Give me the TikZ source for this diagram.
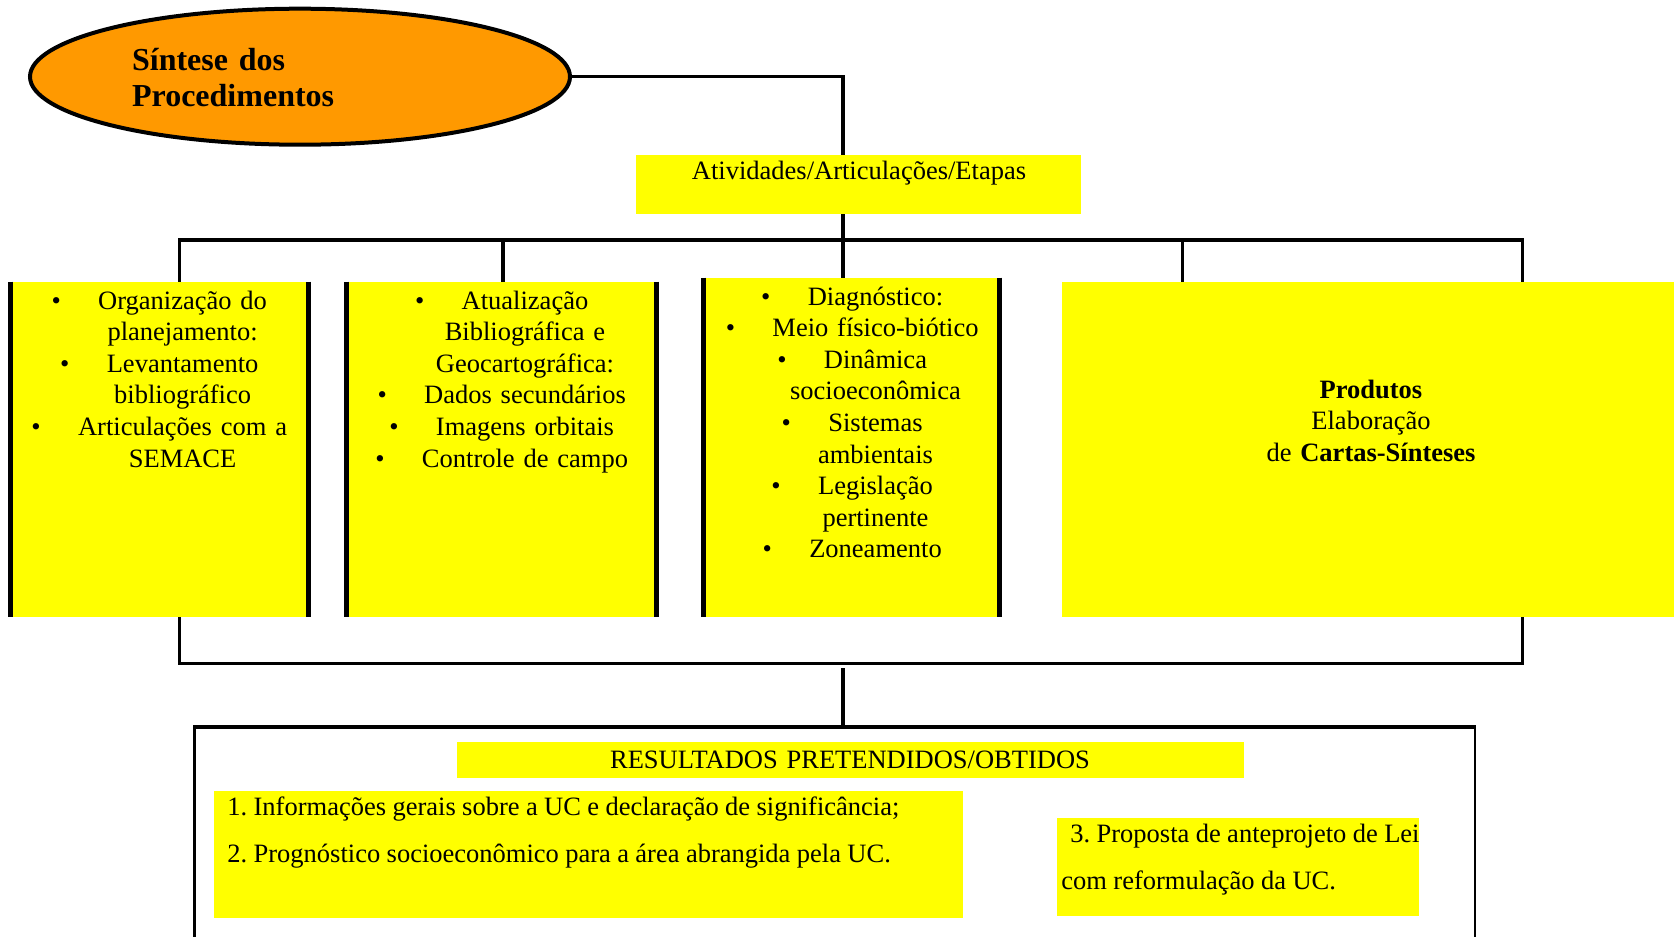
\documentclass[tikz,border=0pt]{standalone}
\usepackage{fontspec}
\setmainfont{Liberation Serif}
\usepackage{xcolor}
\usetikzlibrary{shapes.geometric}
\newcommand{\marca}{\leavevmode\llap{\textbullet\hspace{18.7pt}}}
\newcommand{\juntos}{\frenchspacing\spaceskip=3.2pt plus 1pt\relax}

\begin{document}
\begin{tikzpicture}[x=0.5pt,y=-0.5pt,
  conn/.style={line width=1.65pt},
  caixa/.style={fill=amarelo,inner sep=0pt},
  borda/.style={line width=2.5pt},
  texto/.style={inner sep=0pt,font=\fontsize{13.25}{15.8}\selectfont,align=center,text width=300pt,anchor=base},
  titulo/.style={inner sep=0pt,font=\fontsize{16}{18}\selectfont\bfseries,align=left,text width=120pt,anchor=base west},
  lista/.style={inner sep=0pt,font=\fontsize{13.25}{23.6}\selectfont,align=left,anchor=base west}]
\definecolor{amarelo}{HTML}{FFFF00}
\definecolor{laranja}{HTML}{FF9900}
\useasboundingbox (0,0) rectangle (1674,936);

\node [ellipse,draw,line width=2pt,fill=laranja,minimum width=270pt,minimum height=68pt,inner sep=0pt] (sintese) at (300,76.7) {};
\node [titulo] (sintesetxt) at (131.7,70.7) {Síntese dos\\Procedimentos};

\node [caixa,minimum width=222.5pt,minimum height=29.5pt] (atividades) at (858.5,184.5) {};
\node [texto] (atividadestxt) at (859,180) {Atividades/Articulações/Etapas};

\node [caixa,minimum width=151.5pt,minimum height=167.35pt] (orga) at (159.5,449.35) {};
\node [caixa,minimum width=157.5pt,minimum height=167.35pt] (atua) at (501.5,449.35) {};
\node [caixa,minimum width=150.5pt,minimum height=169.35pt] (diag) at (851.5,447.35) {};
\node [caixa,minimum width=306.2pt,minimum height=167.35pt] (prod) at (1367.8,449.35) {};
\foreach \bx in {orga,atua,diag}
  {\draw [borda] ([xshift=1.25pt]\bx.north west) -- ([xshift=1.25pt]\bx.south west);
   \draw [borda] ([xshift=-1.25pt]\bx.north east) -- ([xshift=-1.25pt]\bx.south east);}

\node [texto] (orgatxt) at (182.6,309) {\marca Organização do\\planejamento:\\\marca Levantamento\\bibliográfico\\\marca Articulações com a\\SEMACE};
\node [texto] (atuatxt) at (525,309) {\marca Atualização\\Bibliográfica e\\Geocartográfica:\\\marca Dados secundários\\\marca Imagens orbitais\\\marca Controle de campo};
\node [texto] (diagtxt) at (875.5,305) {\marca Diagnóstico:\\\marca Meio físico-biótico\\\marca Dinâmica\\socioeconômica\\\marca Sistemas\\ambientais\\\marca Legislação\\pertinente\\\marca Zoneamento};
\node [texto] (prodtxt) at (1371,398) {\textbf{Produtos}\\Elaboração\\de \textbf{Cartas-Sínteses}};

\coordinate (hub) at (843,240);
\coordinate (topL) at (179.5,240);
\coordinate (topR) at (1522.5,240);
\coordinate (botL) at (179.5,663.5);
\coordinate (botR) at (1522.5,663.5);
\coordinate (resTop) at (843,668);
\draw [conn] (sintese.east) -| (hub |- atividades.north);
\draw [conn] (hub |- atividades.south) -- (hub);
\draw [conn] (topL |- orga.north) -- (topL) -- (topR) -- (topR |- prod.north);
\foreach \bx/\bn in {503/atua,843/diag,1182.5/prod}
  {\draw [conn] (\bx,240) -- (\bx,240 |- \bn.north);}
\draw [conn] (botL |- orga.south) -- (botL) -- (botR) -- (botR |- prod.south);

\node [draw,line width=1.3pt,minimum width=640.25pt,minimum height=126pt,inner sep=0pt] (resultados) at (834.75,854) {};
\draw [line width=2pt] (resultados.north west) -- (resultados.north east);
\draw [conn] (resTop) -- (resultados.north -| resTop);

\node [caixa,minimum width=393.5pt,minimum height=18pt] (restitulo) at (850.5,760) {};
\node [texto] (restitulotxt) at (850,768) {RESULTADOS PRETENDIDOS/OBTIDOS};
\node [caixa,minimum width=374.75pt,minimum height=63.5pt] (res1) at (588.25,854.5) {};
\node [lista,text width=360pt] (res1txt) at (227,815) {\juntos 1. Informações gerais sobre a UC e declaração de significância;\\\juntos 2. Prognóstico socioeconômico para a área abrangida pela UC.};
\node [caixa,minimum width=181.4pt,minimum height=48.85pt] (res2) at (1238,866.85) {};
\node [lista,text width=200pt] (res2txt) at (1061,842.7) {\juntos\hspace*{4.5pt}3. Proposta de anteprojeto de Lei\\\juntos com reformulação da UC.};
\end{tikzpicture}
\end{document}
